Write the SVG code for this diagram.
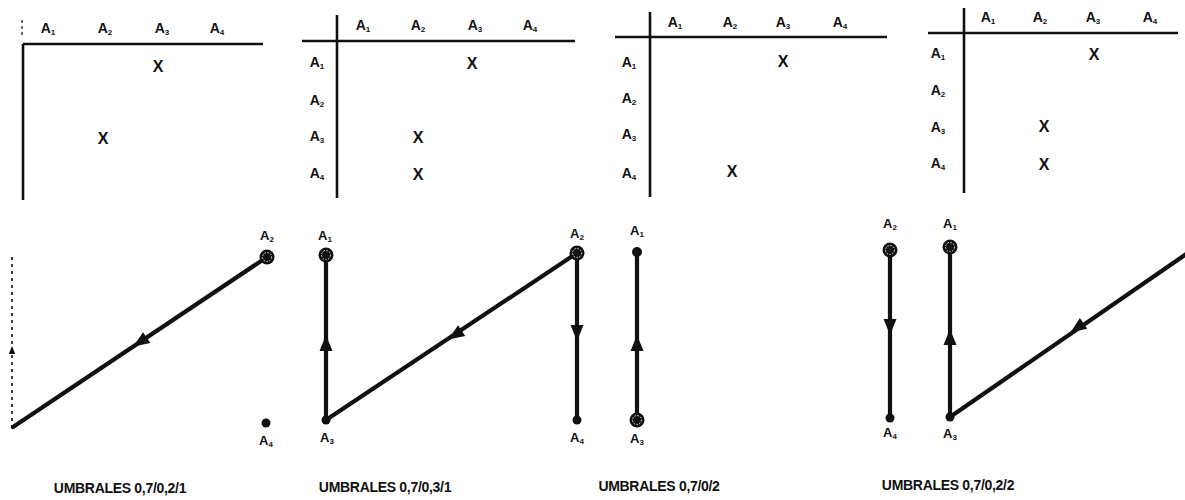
<svg xmlns="http://www.w3.org/2000/svg" width="1185" height="500" viewBox="0 0 1185 500">
<style>
text{font-family:"Liberation Sans",Arial,sans-serif;font-weight:bold;fill:#111}
.lb{font-size:14px;text-anchor:middle}
.gl{font-size:13px;text-anchor:middle}
.sub{font-size:8px}
.x{font-size:16px;text-anchor:middle;font-weight:bold}
.ax{stroke:#111;stroke-width:2.6;fill:none}
.e{stroke:#111;stroke-width:4.2;fill:none;stroke-linecap:round}
.cap{font-size:14px;text-anchor:middle;letter-spacing:-0.3px}
.dot{fill:#111}
.ring{fill:none;stroke:#fff;stroke-width:0.9;stroke-dasharray:1.5 1.5}
</style>
<defs>
<path id="ah" d="M8,0 L-8,-6.5 L-8,6.5 Z" fill="#111"/>
<g id="dn"><circle r="7.5" fill="#111"/><circle r="4.5" class="ring"/></g>
</defs>

<!-- Matrix 1 -->
<g id="matrix1">
<line class="ax" x1="23" y1="44" x2="263" y2="44"/>
<line class="ax" x1="23" y1="44" x2="23" y2="200"/>
<line x1="22" y1="20" x2="22" y2="38" stroke="#111" stroke-width="1.2" stroke-dasharray="3 3"/>
<text class="lb" x="48" y="33">A<tspan class="sub" dy="2">1</tspan></text>
<text class="lb" x="105" y="33">A<tspan class="sub" dy="2">2</tspan></text>
<text class="lb" x="162" y="33">A<tspan class="sub" dy="2">3</tspan></text>
<text class="lb" x="217" y="33">A<tspan class="sub" dy="2">4</tspan></text>
<text class="x" x="158" y="72">X</text>
<text class="x" x="103" y="144">X</text>
</g>

<!-- Matrix 2 -->
<g id="matrix2">
<line class="ax" x1="302" y1="41" x2="575" y2="41"/>
<line class="ax" x1="337" y1="15" x2="337" y2="198"/>
<text class="lb" x="363" y="30">A<tspan class="sub" dy="2">1</tspan></text>
<text class="lb" x="418" y="30">A<tspan class="sub" dy="2">2</tspan></text>
<text class="lb" x="475" y="30">A<tspan class="sub" dy="2">3</tspan></text>
<text class="lb" x="530" y="30">A<tspan class="sub" dy="2">4</tspan></text>
<text class="lb" x="317" y="67">A<tspan class="sub" dy="2">1</tspan></text>
<text class="lb" x="317" y="105">A<tspan class="sub" dy="2">2</tspan></text>
<text class="lb" x="317" y="141">A<tspan class="sub" dy="2">3</tspan></text>
<text class="lb" x="317" y="178">A<tspan class="sub" dy="2">4</tspan></text>
<text class="x" x="472" y="69">X</text>
<text class="x" x="418" y="143">X</text>
<text class="x" x="418" y="180">X</text>
</g>

<!-- Matrix 3 -->
<g id="matrix3">
<line class="ax" x1="615" y1="37" x2="887" y2="37"/>
<line class="ax" x1="650" y1="12" x2="650" y2="197"/>
<text class="lb" x="675" y="27">A<tspan class="sub" dy="2">1</tspan></text>
<text class="lb" x="730" y="27">A<tspan class="sub" dy="2">2</tspan></text>
<text class="lb" x="783" y="27">A<tspan class="sub" dy="2">3</tspan></text>
<text class="lb" x="840" y="27">A<tspan class="sub" dy="2">4</tspan></text>
<text class="lb" x="629" y="67">A<tspan class="sub" dy="2">1</tspan></text>
<text class="lb" x="629" y="103">A<tspan class="sub" dy="2">2</tspan></text>
<text class="lb" x="629" y="139">A<tspan class="sub" dy="2">3</tspan></text>
<text class="lb" x="629" y="178">A<tspan class="sub" dy="2">4</tspan></text>
<text class="x" x="783" y="67">X</text>
<text class="x" x="732" y="177">X</text>
</g>

<!-- Matrix 4 -->
<g id="matrix4">
<line class="ax" x1="928" y1="33" x2="1178" y2="33"/>
<line class="ax" x1="964" y1="8" x2="964" y2="193"/>
<text class="lb" x="988" y="22">A<tspan class="sub" dy="2">1</tspan></text>
<text class="lb" x="1040" y="22">A<tspan class="sub" dy="2">2</tspan></text>
<text class="lb" x="1093" y="22">A<tspan class="sub" dy="2">3</tspan></text>
<text class="lb" x="1150" y="22">A<tspan class="sub" dy="2">4</tspan></text>
<text class="lb" x="938" y="58">A<tspan class="sub" dy="2">1</tspan></text>
<text class="lb" x="938" y="95">A<tspan class="sub" dy="2">2</tspan></text>
<text class="lb" x="938" y="132">A<tspan class="sub" dy="2">3</tspan></text>
<text class="lb" x="938" y="168">A<tspan class="sub" dy="2">4</tspan></text>
<text class="x" x="1094" y="60">X</text>
<text class="x" x="1044" y="132">X</text>
<text class="x" x="1044" y="170">X</text>
</g>

<!-- Connectors -->
<g id="connectors">
<!-- panel 1 -->
<line x1="12" y1="257" x2="12" y2="428" stroke="#111" stroke-width="1.6" stroke-dasharray="3 4"/>
<use href="#ah" transform="translate(12,350) rotate(-90) scale(0.5)"/>
<line class="e" x1="267" y1="257" x2="13" y2="427"/>
<use href="#ah" transform="translate(140,342) rotate(146.2)"/>
<!-- panel 2 -->
<line class="e" x1="326" y1="255" x2="326" y2="420"/>
<use href="#ah" transform="translate(326,343) rotate(-90)"/>
<line class="e" x1="577" y1="253" x2="326" y2="420"/>
<use href="#ah" transform="translate(455,335) rotate(146.3)"/>
<line class="e" x1="577" y1="253" x2="577" y2="420"/>
<use href="#ah" transform="translate(577,333) rotate(90)"/>
<!-- panel 3 -->
<line class="e" x1="637" y1="252" x2="637" y2="420"/>
<use href="#ah" transform="translate(637,343) rotate(-90)"/>
<!-- panel 4 -->
<line class="e" x1="890" y1="250" x2="890" y2="418"/>
<use href="#ah" transform="translate(890,327) rotate(90)"/>
<line class="e" x1="950" y1="247" x2="950" y2="417"/>
<use href="#ah" transform="translate(950,337) rotate(-90)"/>
<line class="e" x1="1192" y1="250" x2="950" y2="417"/>
<use href="#ah" transform="translate(1077,328) rotate(145.4)"/>
</g>

<!-- Panel 1 nodes -->
<g id="p1-A2"><use href="#dn" x="267" y="257"/><text class="gl" x="267" y="240">A<tspan class="sub" dy="2">2</tspan></text></g>
<g id="p1-A4"><circle class="dot" cx="266" cy="423" r="4.5"/><text class="gl" x="266" y="445">A<tspan class="sub" dy="2">4</tspan></text></g>

<!-- Panel 2 nodes -->
<g id="p2-A1"><use href="#dn" x="326" y="255"/><text class="gl" x="325" y="240">A<tspan class="sub" dy="2">1</tspan></text></g>
<g id="p2-A3"><circle class="dot" cx="326" cy="420" r="4.5"/><text class="gl" x="327" y="442">A<tspan class="sub" dy="2">3</tspan></text></g>
<g id="p2-A2"><use href="#dn" x="577" y="253"/><text class="gl" x="577" y="238">A<tspan class="sub" dy="2">2</tspan></text></g>
<g id="p2-A4"><circle class="dot" cx="577" cy="420" r="4.5"/><text class="gl" x="577" y="442">A<tspan class="sub" dy="2">4</tspan></text></g>

<!-- Panel 3 nodes -->
<g id="p3-A1"><circle class="dot" cx="637" cy="252" r="5"/><text class="gl" x="637" y="235">A<tspan class="sub" dy="2">1</tspan></text></g>
<g id="p3-A3"><use href="#dn" x="637" y="420"/><text class="gl" x="637" y="443">A<tspan class="sub" dy="2">3</tspan></text></g>

<!-- Panel 4 nodes -->
<g id="p4-A2"><use href="#dn" x="890" y="250"/><text class="gl" x="890" y="228">A<tspan class="sub" dy="2">2</tspan></text></g>
<g id="p4-A4"><circle class="dot" cx="890" cy="418" r="4.5"/><text class="gl" x="890" y="437">A<tspan class="sub" dy="2">4</tspan></text></g>
<g id="p4-A1"><use href="#dn" x="950" y="247"/><text class="gl" x="950" y="228">A<tspan class="sub" dy="2">1</tspan></text></g>
<g id="p4-A3"><circle class="dot" cx="950" cy="417" r="4.5"/><text class="gl" x="950" y="438">A<tspan class="sub" dy="2">3</tspan></text></g>

<!-- Captions -->
<g id="captions">
<text class="cap" x="120" y="493">UMBRALES 0,7/0,2/1</text>
<text class="cap" x="385" y="492">UMBRALES 0,7/0,3/1</text>
<text class="cap" x="659" y="491">UMBRALES 0,7/0/2</text>
<text class="cap" x="948" y="490">UMBRALES 0,7/0,2/2</text>
</g>
</svg>
